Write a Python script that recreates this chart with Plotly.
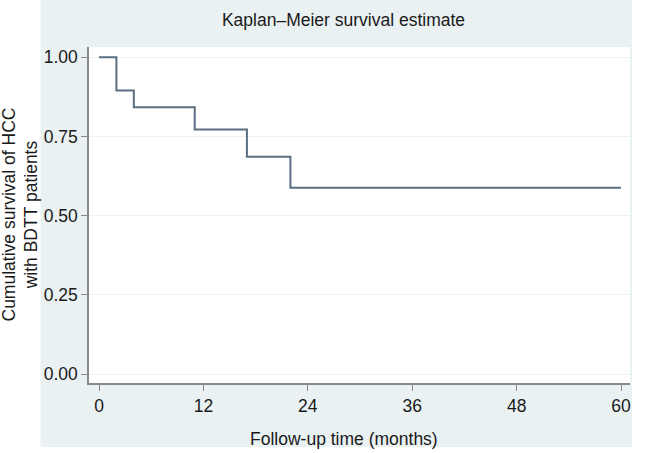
import plotly.graph_objects as go

# Kaplan-Meier step data (months, survival probability)
time_months = [0, 2.0, 4.0, 11.0, 17.0, 22.0, 60.0]
survival = [1.0, 0.895, 0.842, 0.772, 0.686, 0.588, 0.588]

x_ticks = [0, 12, 24, 36, 48, 60]
y_ticks = [0, 0.25, 0.5, 0.75, 1.0]
y_tick_labels = ["0.00", "0.25", "0.50", "0.75", "1.00"]

W, H = 647, 453
L, R, T, B = 89, 17, 47, 70
pw = W - L - R
ph = H - T - B

bg = "#eaf1f2"
font_family = "Liberation Sans, Arial, sans-serif"
fs = 17.5

fig = go.Figure()
fig.add_trace(go.Scatter(
    x=time_months, y=survival, mode="lines",
    line=dict(shape="hv", color="#5b6f83", width=2),
    hoverinfo="x+y", showlegend=False,
))

def px_x(p):
    return (p - L) / pw

def px_y(p):
    return 1 - (p - T) / ph

# white strips outside the light panel
shapes = [
    dict(type="rect", xref="paper", yref="paper", x0=px_x(0), x1=px_x(40.5),
         y0=px_y(H), y1=px_y(0), fillcolor="white", line=dict(width=0), layer="below"),
    dict(type="rect", xref="paper", yref="paper", x0=px_x(632), x1=px_x(W),
         y0=px_y(H), y1=px_y(0), fillcolor="white", line=dict(width=0), layer="below"),
    dict(type="rect", xref="paper", yref="paper", x0=px_x(0), x1=px_x(W),
         y0=px_y(H), y1=px_y(447), fillcolor="white", line=dict(width=0), layer="below"),
]

annotations = [
    dict(text="Follow-up time (months)", xref="paper", yref="paper",
         x=px_x(343.5), y=px_y(439), xanchor="center", yanchor="middle",
         showarrow=False, font=dict(size=fs)),
    dict(text="Cumulative survival of HCC<br>with BDTT patients", xref="paper", yref="paper",
         x=px_x(19.5), y=px_y(215), xanchor="center", yanchor="middle", textangle=-90,
         showarrow=False, font=dict(size=fs)),
]

fig.update_layout(
    width=W, height=H,
    margin=dict(l=L, r=R, t=T, b=B, autoexpand=False),
    paper_bgcolor=bg, plot_bgcolor="white",
    font=dict(family=font_family, size=fs, color="#1a1a1a"),
    title=dict(text="Kaplan–Meier survival estimate", x=343.5 / W, xref="container",
               xanchor="center", y=1 - 20 / H, yref="container", yanchor="middle",
               font=dict(size=fs, color="#1a1a1a")),
    shapes=shapes,
    annotations=annotations,
    xaxis=dict(
        range=[-1.15, 61.03], tickvals=x_ticks, ticks="outside", ticklen=6,
        tickcolor="#8a8a8a", showgrid=False, zeroline=False, automargin=False,
        showline=True, linecolor="#8a8a8a", linewidth=1.5,
        tickfont=dict(size=fs),
    ),
    yaxis=dict(
        range=[-0.028, 1.032], tickvals=y_ticks, ticktext=y_tick_labels,
        ticks="outside", ticklen=6, tickcolor="#8a8a8a", automargin=False,
        showgrid=True, gridcolor="#eef2f3", gridwidth=1, zeroline=False,
        showline=True, linecolor="#8a8a8a", linewidth=1.5,
        tickfont=dict(size=fs),
    ),
)

fig.write_html(
    "out.html",
    config={"displayModeBar": False},
    post_script="document.body.style.margin='0';document.body.style.overflow='hidden';",
)
